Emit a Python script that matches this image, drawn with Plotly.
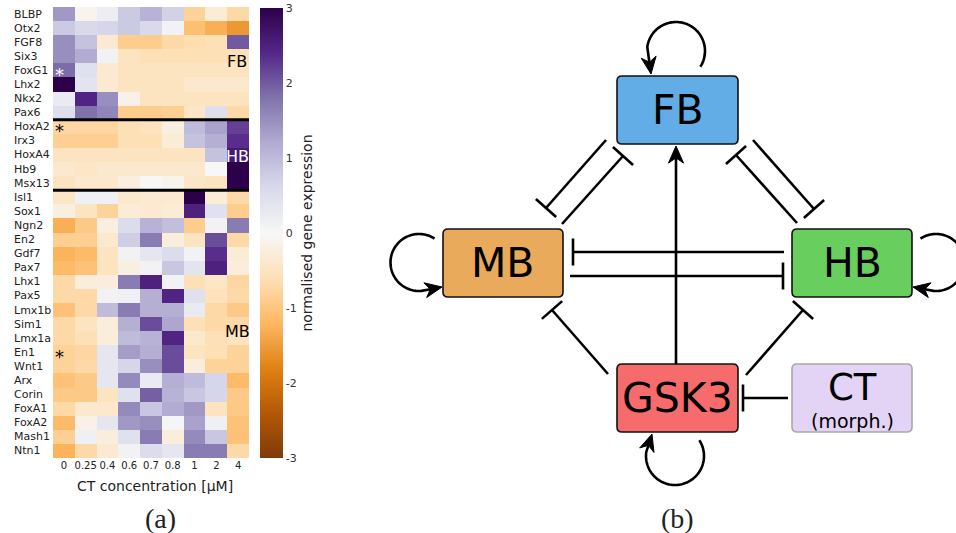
import numpy as np
import plotly.graph_objects as go

W, H = 956, 533

# ---------------- data: heatmap ----------------
concentrations = ["0", "0.25", "0.4", "0.6", "0.7", "0.8", "1", "2", "4"]

fb_genes = ["BLBP", "Otx2", "FGF8", "Six3", "FoxG1", "Lhx2", "Nkx2", "Pax6"]
fb_values = [
    [1.4, -0.1, 0.2, 0.8, 1.1, 0.7, -0.8, -0.3, -0.7],
    [0.8, 0.6, 0.65, 0.8, 0.6, 0.1, -1.1, -1.3, -1.55],
    [1.5, 0.9, -0.35, -0.9, -0.9, -0.7, -0.65, -0.6, 2.0],
    [1.5, 1.2, 0.1, -0.5, -0.6, -0.6, -0.6, -0.6, -0.6],
    [1.85, 0.45, -0.35, -0.5, -0.5, -0.5, -0.5, -0.5, -0.5],
    [3.0, 0.4, -0.35, -0.5, -0.5, -0.5, -0.4, -0.4, -0.4],
    [0.25, 2.45, 1.5, -0.15, -0.5, -0.5, -0.5, -0.5, -0.5],
    [0.5, 1.8, 1.6, -0.9, -0.9, -0.85, -0.45, 0.5, -0.7],
]

hb_genes = ["HoxA2", "Irx3", "HoxA4", "Hb9", "Msx13"]
hb_values = [
    [-0.75, -0.75, -0.75, -0.6, -0.5, -0.2, 1.0, 1.3, 2.2],
    [-0.85, -0.85, -0.85, -0.6, -0.6, -0.3, 0.9, 1.15, 2.35],
    [-0.5, -0.5, -0.5, -0.5, -0.5, -0.5, -0.5, 0.9, 2.6],
    [-0.4, -0.45, -0.4, -0.4, -0.4, -0.4, -0.4, 0.0, 3.0],
    [-0.5, -0.4, -0.4, -0.2, 0.0, -0.1, -0.45, -0.5, 3.0],
]

mb_genes = ["Isl1", "Sox1", "Ngn2", "En2", "Gdf7", "Pax7", "Lhx1", "Pax5",
            "Lmx1b", "Sim1", "Lmx1a", "En1", "Wnt1", "Arx", "Corin", "FoxA1",
            "FoxA2", "Mash1", "Ntn1"]
mb_values = [
    [-0.45, 0.15, 0.15, -0.4, -0.35, -0.35, 3.0, -0.3, -0.7],
    [-0.2, -0.5, -0.8, -0.3, -0.35, -0.3, 2.5, 0.45, -0.9],
    [-1.3, -0.95, -0.2, 0.55, 1.1, 0.95, -0.9, 0.1, 1.7],
    [-0.85, -0.85, -0.4, 0.75, 1.7, -0.25, -0.5, 2.1, -0.7],
    [-1.25, -1.15, -0.5, 0.1, 0.35, 0.55, 0.1, 2.35, -0.3],
    [-1.15, -1.05, -0.5, -0.2, 0.1, 0.85, 0.4, 2.5, -0.25],
    [-0.7, -0.25, -0.25, 1.7, 2.5, 0.1, -0.6, -0.45, -0.75],
    [-0.7, -0.7, 0.1, 0.15, 1.15, 2.45, 0.45, -0.55, -0.7],
    [-1.05, -0.7, 1.0, 1.7, 1.15, 1.15, 0.25, -0.7, -0.95],
    [-0.7, -0.5, -0.25, 1.15, 2.1, 1.25, -0.6, -0.7, -0.7],
    [-0.7, -0.6, -0.25, 1.0, 1.1, 2.45, -0.4, -0.6, -0.5],
    [-0.8, -0.75, 0.35, 1.35, 1.15, 2.1, -0.5, -0.6, -0.8],
    [-0.8, -0.7, 0.35, 0.65, 1.5, 2.1, -0.25, -0.8, -0.8],
    [-1.05, -0.95, 0.35, 1.55, 0.25, 1.15, 1.0, 0.65, -1.15],
    [-0.95, -0.95, -0.5, 0.45, 1.95, 1.1, 0.85, 0.65, -0.95],
    [-0.7, -0.4, -0.4, 1.55, 0.85, 1.2, 1.4, -0.5, -0.95],
    [-1.15, -0.15, 0.35, 1.4, 1.5, 0.05, 1.3, 0.15, -1.05],
    [-0.85, 0.15, -0.25, 0.45, 1.7, -0.25, 1.55, 0.85, -1.05],
    [-1.25, -0.7, -0.35, 0.1, 0.55, 0.35, 1.7, 1.7, -0.7],
]

region_labels = [("FB", "Six3"), ("HB", "HoxA4"), ("MB", "Sim1")]
asterisks = [("FoxG1", "white"), ("HoxA2", "black"), ("En1", "black")]

colorbar_ticks = [3, 2, 1, 0, -1, -2, -3]

# ---------------- data: network ----------------
nodes = ["FB", "MB", "HB", "GSK3", "CT"]
node_sub = {"CT": "(morph.)"}
activations = [("GSK3", "FB")]
inhibitions = [("FB", "MB"), ("MB", "FB"), ("FB", "HB"), ("HB", "FB"),
               ("HB", "MB"), ("MB", "HB"), ("GSK3", "MB"), ("GSK3", "HB"),
               ("CT", "GSK3")]
self_loops = ["FB", "MB", "HB", "GSK3"]

# ---------------- layout (pixel geometry of the diagram) ----------------
node_box = {
    "FB": (617, 76, 738, 144),
    "MB": (443, 229, 563, 297),
    "HB": (792, 229, 912, 297),
    "GSK3": (617, 364, 738, 432),
    "CT": (792, 364, 912, 432),
}
node_fill = {"FB": "#63ADE6", "MB": "#EAAA5C", "HB": "#68CF5F",
             "GSK3": "#F66B6B", "CT": "#E3D4F6"}
node_edge = {"FB": "#111", "MB": "#111", "HB": "#111", "GSK3": "#111",
             "CT": "#A8A8A8"}
node_font = {"FB": 41, "MB": 41, "HB": 41, "GSK3": 41, "CT": 37}
node_dy = {"FB": 0, "MB": 0, "HB": 0, "GSK3": 0, "CT": -11}
sub_dy, sub_font = 22.5, 19
edge_route = {
    ("GSK3", "FB"): ((676, 364), (676, 146)),
    ("CT", "GSK3"): ((788, 398), (743, 398)),
    ("GSK3", "MB"): ((608, 374), (552, 310)),
    ("GSK3", "HB"): ((746, 375), (803, 310)),
    ("HB", "MB"): ((784, 252), (573, 252)),
    ("MB", "HB"): ((570, 276), (783, 276)),
    ("FB", "MB"): ((606, 140), (546, 208)),
    ("MB", "FB"): ((562, 224), (623, 156)),
    ("FB", "HB"): ((753, 140), (814, 209)),
    ("HB", "FB"): ((797, 223), (736, 155)),
}
# center, radius, start angle, end angle (deg, screen coords), arrow tip
loop_geom = {
    "FB": ((676, 51), 29, 33, -172, (651, 74)),
    "MB": ((419, 262.5), 28.5, -57, -275, (442, 287)),
    "HB": ((936, 262.5), 28.5, -123, 95, (913, 287)),
    "GSK3": ((675, 456), 29, -33, 188, (652, 434)),
}

LW = 2.6
BAR = 13.5
HEAD_L, HEAD_W = 17, 7.5

genes = fb_genes + hb_genes + mb_genes
z = fb_values + hb_values + mb_values
row_of = {g: i for i, g in enumerate(genes)}

puor = ["rgb(127,59,8)", "rgb(179,88,6)", "rgb(224,130,20)", "rgb(253,184,99)",
        "rgb(254,224,182)", "rgb(247,247,247)", "rgb(216,218,235)",
        "rgb(178,171,210)", "rgb(128,115,172)", "rgb(84,39,136)", "rgb(45,0,75)"]
colorscale = [[i / 10, c] for i, c in enumerate(puor)]

fig = go.Figure()
fig.add_trace(go.Heatmap(
    z=z, x=list(range(len(concentrations))), y=list(range(len(genes))),
    colorscale=colorscale, zmin=-3, zmax=3, hoverinfo="skip",
    colorbar=dict(
        x=260 / W, xanchor="left", y=1 - 233 / H, yanchor="middle",
        len=450 / H, lenmode="fraction", thickness=23, thicknessmode="pixels",
        xpad=0, ypad=0, outlinewidth=0, ticks="",
        tickvals=colorbar_ticks, ticktext=[str(t) for t in colorbar_ticks],
        tickfont=dict(family="DejaVu Sans", size=11, color="#333"),
        title=dict(text="normalised gene expression", side="right",
                   font=dict(family="DejaVu Sans", size=14, color="#222")),
    ),
))
fig.add_trace(go.Scatter(x=[0], y=[0], xaxis="x2", yaxis="y2", mode="markers",
                         marker=dict(opacity=0), hoverinfo="skip",
                         showlegend=False))

shapes = []
annotations = []

# heatmap separators
for b in [len(fb_genes) - 0.5, len(fb_genes) + len(hb_genes) - 0.5]:
    shapes.append(dict(type="line", xref="x", yref="y", x0=-0.5,
                       x1=len(concentrations) - 0.5, y0=b, y1=b,
                       line=dict(color="black", width=3)))

# row labels (left aligned)
for i, g in enumerate(genes):
    annotations.append(dict(xref="paper", yref="y", x=12 / W, y=i, text=g,
                            xanchor="left", yanchor="middle", showarrow=False,
                            font=dict(family="DejaVu Sans", size=11,
                                      color="#222")))

region_pos = {"FB": 0.4, "HB": 0.1, "MB": 0.5}
region_col = {"FB": "black", "HB": "white", "MB": "black"}
for lab, g in region_labels:
    annotations.append(dict(xref="x", yref="y", x=7.95, y=row_of[g] + region_pos[lab],
                            text=lab, showarrow=False, xanchor="center",
                            yanchor="middle",
                            font=dict(family="DejaVu Sans", size=16,
                                      color=region_col[lab])))
for g, col in asterisks:
    annotations.append(dict(xref="x", yref="y", x=-0.2, y=row_of[g], text="*",
                            showarrow=False, yshift=-4, xanchor="center",
                            yanchor="middle",
                            font=dict(family="DejaVu Sans", size=18, color=col)))


def paper_text(x, y, text, family, size):
    return dict(xref="paper", yref="paper", x=x / W, y=1 - y / H, text=text,
                showarrow=False, xanchor="center", yanchor="middle",
                font=dict(family=family, size=size, color="#222"))


annotations.append(paper_text(155, 486, "CT concentration [μM]", "DejaVu Sans", 14))
annotations.append(paper_text(160, 518, "(a)", "Liberation Serif", 28))
annotations.append(paper_text(677, 518, "(b)", "Liberation Serif", 28))


def rrect(x0, y0, x1, y1, r=5):
    return (f"M {x0+r},{y0} L {x1-r},{y0} Q {x1},{y0} {x1},{y0+r} "
            f"L {x1},{y1-r} Q {x1},{y1} {x1-r},{y1} L {x0+r},{y1} "
            f"Q {x0},{y1} {x0},{y1-r} L {x0},{y0+r} Q {x0},{y0} {x0+r},{y0} Z")


def arrowhead(tip, d):
    d = np.asarray(d, float)
    d = d / np.hypot(*d)
    n = np.array([-d[1], d[0]])
    t = np.asarray(tip, float)
    p1 = t - d * HEAD_L + n * HEAD_W
    p2 = t - d * HEAD_L * 0.7
    p3 = t - d * HEAD_L - n * HEAD_W
    path = f"M {t[0]},{t[1]} L {p1[0]},{p1[1]} L {p2[0]},{p2[1]} L {p3[0]},{p3[1]} Z"
    return path, p2


def ax2(**kw):
    return dict(xref="x2", yref="y2", **kw)


# node boxes
for nd in nodes:
    x0, y0, x1, y1 = node_box[nd]
    shapes.append(ax2(type="path", path=rrect(x0, y0, x1, y1),
                      fillcolor=node_fill[nd],
                      line=dict(color=node_edge[nd], width=1.6), layer="above"))
    cx, cy = (x0 + x1) / 2, (y0 + y1) / 2
    annotations.append(ax2(x=cx, y=cy + node_dy[nd], text=nd,
                           showarrow=False, xanchor="center", yanchor="middle",
                           font=dict(family="DejaVu Sans", size=node_font[nd],
                                     color="black")))
    if nd in node_sub:
        annotations.append(ax2(x=cx, y=cy + sub_dy, text=node_sub[nd],
                               showarrow=False, xanchor="center", yanchor="middle",
                               font=dict(family="DejaVu Sans", size=sub_font,
                                         color="black")))

# inhibitions
for e in inhibitions:
    (xa, ya), (xb, yb) = edge_route[e]
    d = np.array([xb - xa, yb - ya], float)
    d /= np.hypot(*d)
    n = np.array([-d[1], d[0]])
    shapes.append(ax2(type="line", x0=xa, y0=ya, x1=xb, y1=yb,
                      line=dict(color="black", width=LW)))
    shapes.append(ax2(type="line", x0=xb + n[0] * BAR, y0=yb + n[1] * BAR,
                      x1=xb - n[0] * BAR, y1=yb - n[1] * BAR,
                      line=dict(color="black", width=LW)))

# activations
for e in activations:
    (xa, ya), (xb, yb) = edge_route[e]
    head, base = arrowhead((xb, yb), (xb - xa, yb - ya))
    shapes.append(ax2(type="line", x0=xa, y0=ya, x1=base[0], y1=base[1],
                      line=dict(color="black", width=LW)))
    shapes.append(ax2(type="path", path=head, fillcolor="black",
                      line=dict(color="black", width=1)))

# self loops
for nd in self_loops:
    (cx, cy), r, a0, a1, tip = loop_geom[nd]
    ang = np.radians(np.linspace(a0, a1, 80))
    xs = cx + r * np.cos(ang)
    ys = cy + r * np.sin(ang)
    head, base = arrowhead(tip, (tip[0] - xs[-1], tip[1] - ys[-1]))
    pts = list(zip(xs, ys)) + [tuple(base)]
    path = "M " + " L ".join(f"{px:.2f},{py:.2f}" for px, py in pts)
    shapes.append(ax2(type="path", path=path,
                      line=dict(color="black", width=LW)))
    shapes.append(ax2(type="path", path=head, fillcolor="black",
                      line=dict(color="black", width=1)))

fig.update_layout(
    width=W, height=H, margin=dict(l=0, r=0, t=0, b=0),
    paper_bgcolor="white", plot_bgcolor="rgba(0,0,0,0)",
    showlegend=False,
    xaxis=dict(domain=[53 / W, 249 / W], range=[-0.5, len(concentrations) - 0.5],
               tickvals=list(range(len(concentrations))), ticktext=concentrations,
               tickangle=0,
               tickfont=dict(family="DejaVu Sans", size=10, color="#222"),
               ticks="", showgrid=False, zeroline=False, showline=False,
               anchor="y", fixedrange=True),
    yaxis=dict(domain=[1 - 458 / H, 1 - 7 / H], range=[len(genes) - 0.5, -0.5],
               showticklabels=False, ticks="", showgrid=False, zeroline=False,
               anchor="x", fixedrange=True),
    xaxis2=dict(domain=[0, 1], range=[0, W], visible=False, anchor="y2",
                fixedrange=True),
    yaxis2=dict(domain=[0, 1], range=[H, 0], visible=False, anchor="x2",
                fixedrange=True),
    shapes=shapes, annotations=annotations,
)

fig.write_html("out.html")
